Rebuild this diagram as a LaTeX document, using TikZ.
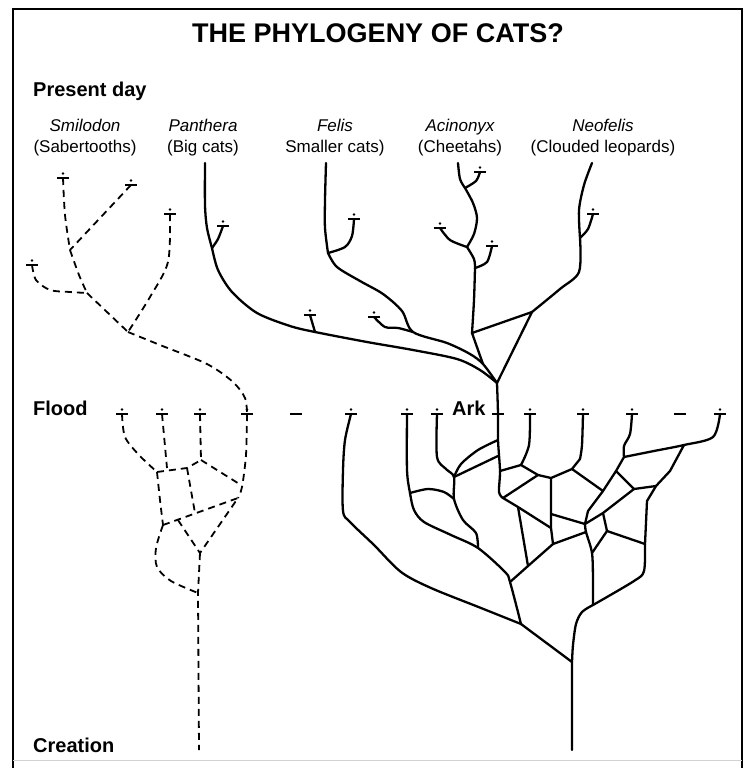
\documentclass[tikz,border=0pt]{standalone}
\usepackage{fontspec}
\setmainfont{Liberation Sans}
\begin{document}
\begin{tikzpicture}[x=1pt,y=-1pt,
	lineage/.style={line width=2.3pt,line cap=round,line join=round},
	extinct/.style={line width=1.8pt,dash pattern=on 7pt off 5pt},
	tipmark/.pic={\draw[line width=1.1pt] (-6,0) -- (6,0);
		\fill (0,-4.5) circle (1.3pt);},
	lbl/.style={font=\fontsize{17}{20}\selectfont,anchor=base,inner sep=0pt},
	era/.style={font=\bfseries\fontsize{20}{24}\selectfont,anchor=base west,inner sep=0pt}]
	\def \flood{414}
	\useasboundingbox (0,0) rectangle (749,768);
	% Khung
	\draw[line width=2.5pt] (13,768) -- (13,9) -- (742,9) -- (742,768);
	\draw[gray!35,line width=1pt] (13,760) -- (742,760);
	% Tieu de, cac moc thoi gian
	\node[font=\bfseries\fontsize{27}{30}\selectfont,anchor=base,inner sep=0pt] (title) at (378,43) {THE PHYLOGENY OF CATS?};
	\node[era] (present) at (33,96) {Present day};
	\node[era] (flood) at (33,415) {Flood};
	\node[era] (ark) at (452,415) {Ark};
	\node[era] (creation) at (33,752) {Creation};
	% Ten cac nhom meo
	\foreach \x/\nm/\gen/\com in {85/smilo/Smilodon/(Sabertooths),203/panth/Panthera/(Big cats),
		335/felis/Felis/Smaller cats),460/acino/Acinonyx/(Cheetahs),603/neofe/Neofelis/(Clouded leopards)}{
		\node[lbl] (\nm) at (\x,131) {\itshape \gen};
		\node[lbl] (\nm-c) at ([yshift=-21pt]\nm.base) {\com};
	}
	% Dau cac nhanh tuyet chung
	\foreach \x/\y in {63/178,131/185,32/265,170/214,223/226,310/315,354/219,374/317,
		480/172,440/228,492/246,593/214}
		\pic at (\x,\y) {tipmark};
	\foreach \x in {122,162,200,247,351,407,437,530,583,632,720}
		\pic at (\x,\flood) {tipmark};
	\foreach \x in {296,498,680}
		\draw[line width=1.1pt] (\x-6,\flood) -- (\x+6,\flood);
	%Smilodon (net dut)
	\coordinate (sA) at (70,250);
	\coordinate (sB) at (87,293);
	\coordinate (sC) at (128,332);
	\draw[extinct] plot[smooth] coordinates {(63,178) (65,215) (sA)};
	\draw[extinct] (131,185) -- (sA);
	\draw[extinct] plot[smooth] coordinates {(sA) (79,275) (sB)};
	\draw[extinct] plot[smooth] coordinates {(32,265) (36,280) (50,290) (70,292) (sB)};
	\draw[extinct] (sB) -- (sC);
	\draw[extinct] plot[smooth] coordinates {(170,214) (168,262) (150,297) (sC)};
	\draw[extinct] plot[smooth] coordinates {(sC) (160,345) (207,364) (233,382) (245,398) (247,\flood)};
	% Nhanh net dut duoi Flood
	\coordinate (d1) at (157,472);
	\coordinate (d2) at (187,468);
	\coordinate (d3) at (201,460);
	\coordinate (d4) at (238,498);
	\coordinate (d5) at (195,513);
	\coordinate (d6) at (163,525);
	\coordinate (d7) at (178,520);
	\coordinate (d8) at (200,553);
	\coordinate (d9) at (198,593);
	\draw[extinct] plot[smooth] coordinates {(122,\flood) (125,437) (139,455) (d1)};
	\draw[extinct] (162,\flood) -- (167,468);
	\draw[extinct] (d1) -- (d2) -- (d3);
	\draw[extinct] (200,\flood) -- (d3);
	\draw[extinct] (d3) -- (241,485);
	\draw[extinct] plot[smooth] coordinates {(247,\flood) (246,455) (242,487) (d4)};
	\draw[extinct] (d2) -- (d5);
	\draw[extinct] plot[smooth] coordinates {(d1) (160,500) (d6)};
	\draw[extinct] (d6) -- (d4) -- (d8);
	\draw[extinct] (d7) -- (d8);
	\draw[extinct] plot[smooth] coordinates {(d6) (156,548) (157,567) (171,581) (d9)};
	\draw[extinct] (d8) -- (d9) -- (199,750);
	% Cay tren (Present day -> Ark)
	\coordinate (arkpt) at (497,383);
	\coordinate (pA) at (212,248);
	\coordinate (pB) at (315,332);
	\coordinate (fA) at (328,253);
	\coordinate (fB) at (413,332);
	\coordinate (cJ) at (483,364);
	\coordinate (aA) at (465,188);
	\coordinate (aB) at (467,247);
	\coordinate (aC) at (475,268);
	\coordinate (aD) at (472,333);
	\coordinate (nA) at (580,238);
	\coordinate (nB) at (532,312);
	\draw[lineage] plot[smooth] coordinates {(205,163) (205,205) (207,228) (pA)};
	\draw[lineage] plot[smooth] coordinates {(pA) (218,239) (223,226)};
	\draw[lineage] plot[smooth] coordinates {(pA) (218,270) (232,292) (257,313) (290,326) (pB)
		(367,342) (413,350) (457,359) (480,370) (arkpt)};
	\draw[lineage] (pB) -- (310,315);
	\draw[lineage] plot[smooth] coordinates {(326,163) (325,200) (325,228) (fA)};
	\draw[lineage] plot[smooth] coordinates {(fA) (345,247) (352,236) (354,219)};
	\draw[lineage] plot[smooth] coordinates {(fA) (337,267) (360,281) (383,294) (402,311) (fB)
		(447,343) (470,354) (cJ) (arkpt)};
	\draw[lineage] plot[smooth] coordinates {(fB) (398,328) (385,327) (374,317)};
	\draw[lineage] plot[smooth] coordinates {(458,163) (460,179) (aA)};
	\draw[lineage] plot[smooth] coordinates {(aA) (476,181) (480,172)};
	\draw[lineage] plot[smooth] coordinates {(aA) (473,203) (477,218) (474,234) (aB)};
	\draw[lineage] plot[smooth] coordinates {(aB) (450,240) (440,228)};
	\draw[lineage] plot[smooth] coordinates {(aB) (474,259) (aC)};
	\draw[lineage] plot[smooth] coordinates {(aC) (487,262) (492,246)};
	\draw[lineage] plot[smooth] coordinates {(aC) (474,300) (aD)};
	\draw[lineage] plot[smooth] coordinates {(aD) (478,350) (cJ)};
	\draw[lineage] (aD) -- (nB);
	\draw[lineage] plot[smooth] coordinates {(592,163) (584,185) (579,210) (nA)};
	\draw[lineage] plot[smooth] coordinates {(nA) (588,229) (593,214)};
	\draw[lineage] plot[smooth] coordinates {(nA) (579,272) (560,289) (nB)};
	\draw[lineage] (nB) -- (arkpt);
	% Than chinh qua Ark
	\coordinate (tA1) at (498,440);
	\coordinate (tA2) at (498,456);
	\coordinate (tC) at (500,471);
	\coordinate (tB) at (503,498);
	\draw[lineage] plot[smooth] coordinates {(arkpt) (498,\flood) (tA1) (tC) (499,492) (tB)};
	% Cay duoi (Flood -> Creation)
	\coordinate (lJ) at (521,624);
	\coordinate (root) at (572,662);
	\coordinate (qA) at (410,493);
	\coordinate (qB) at (478,548);
	\coordinate (qC) at (510,582);
	\coordinate (qD) at (454,499);
	\coordinate (qE) at (454,477);
	\draw[lineage] plot[smooth] coordinates {(351,\flood) (345,440) (343,470) (343,511) (350,522)
		(374,545) (401,572) (431,588) (481,608) (lJ)};
	\draw[lineage] (lJ) -- (root) -- (572,750);
	\draw[lineage] plot[smooth] coordinates {(407,\flood) (407,470) (qA) (414,510) (424,522)
		(451,535) (qB) (505,572) (qC) (lJ)};
	\draw[lineage] plot[smooth] coordinates {(qA) (428,489) (444,492) (qD)};
	\draw[lineage] plot[smooth] coordinates {(437,\flood) (437,457) (446,469) (qE) (qD)
		(463,520) (476,533) (qB)};
	\draw[lineage] plot[smooth] coordinates {(tA1) (478,450) (461,464) (qE)};
	\draw[lineage] (tA2) -- (qE);
	\coordinate (rA) at (521,465);
	\coordinate (rB) at (538,475);
	\coordinate (rC) at (551,478);
	\coordinate (rD) at (572,469);
	\coordinate (rE) at (580,459);
	\coordinate (rF) at (551,514);
	\coordinate (rG) at (551,528);
	\coordinate (rH) at (553,544);
	\coordinate (rI) at (518,507);
	\coordinate (rJ) at (528,566);
	\coordinate (rR) at (593,605);
	\draw[lineage] plot[smooth] coordinates {(530,\flood) (529,445) (rA)};
	\draw[lineage] (tC) -- (rA) -- (rB) -- (rC) -- (rD) -- (rE);
	\draw[lineage] plot[smooth] coordinates {(583,\flood) (582,445) (rE)};
	\draw[lineage] (rC) -- (rF) -- (rG) -- (rH);
	\draw[lineage] (rB) -- (tB) -- (rI) -- (rG);
	\draw[lineage] (rI) -- (rJ);
	\coordinate (dT) at (585,524);
	\coordinate (dL) at (586,532);
	\coordinate (dR1) at (603,513);
	\coordinate (dR2) at (607,531);
	\coordinate (dB) at (592,553);
	\coordinate (gA) at (603,491);
	\coordinate (gB) at (624,457);
	\coordinate (gC) at (684,445);
	\coordinate (gD) at (616,471);
	\coordinate (gE) at (634,489);
	\coordinate (gF) at (656,486);
	\coordinate (gG) at (645,544);
	\draw[lineage] (qC) -- (rJ) -- (rH) -- (dL);
	\draw[lineage] (rF) -- (dT);
	\draw[lineage] (rD) -- (gA);
	\draw[lineage] plot[smooth] coordinates {(632,\flood) (630,434) (624,446) (gB)};
	\draw[lineage] plot[smooth] coordinates {(gB) (654,451) (gC) (713,437) (720,\flood)};
	\draw[lineage] (gB) -- (gD) -- (gA) -- (588,511) -- (dT);
	\draw[lineage] (gD) -- (gE) -- (gF);
	\draw[lineage] (gC) -- (670,471) -- (gF);
	\draw[lineage] (gF) -- (647,501) -- (gG);
	\draw[lineage] (dT) -- (dR1) -- (dR2) -- (dB);
	\draw[lineage] (dR1) -- (gE);
	\draw[lineage] (dR2) -- (gG);
	\draw[lineage] plot[smooth] coordinates {(dT) (dL) (dB) (593,581) (rR)};
	\draw[lineage] plot[smooth] coordinates {(gG) (644,571) (634,581) (rR)};
	\draw[lineage] plot[smooth] coordinates {(rR) (582,612) (576,624) (573,645) (root)};
\end{tikzpicture}
\end{document}
